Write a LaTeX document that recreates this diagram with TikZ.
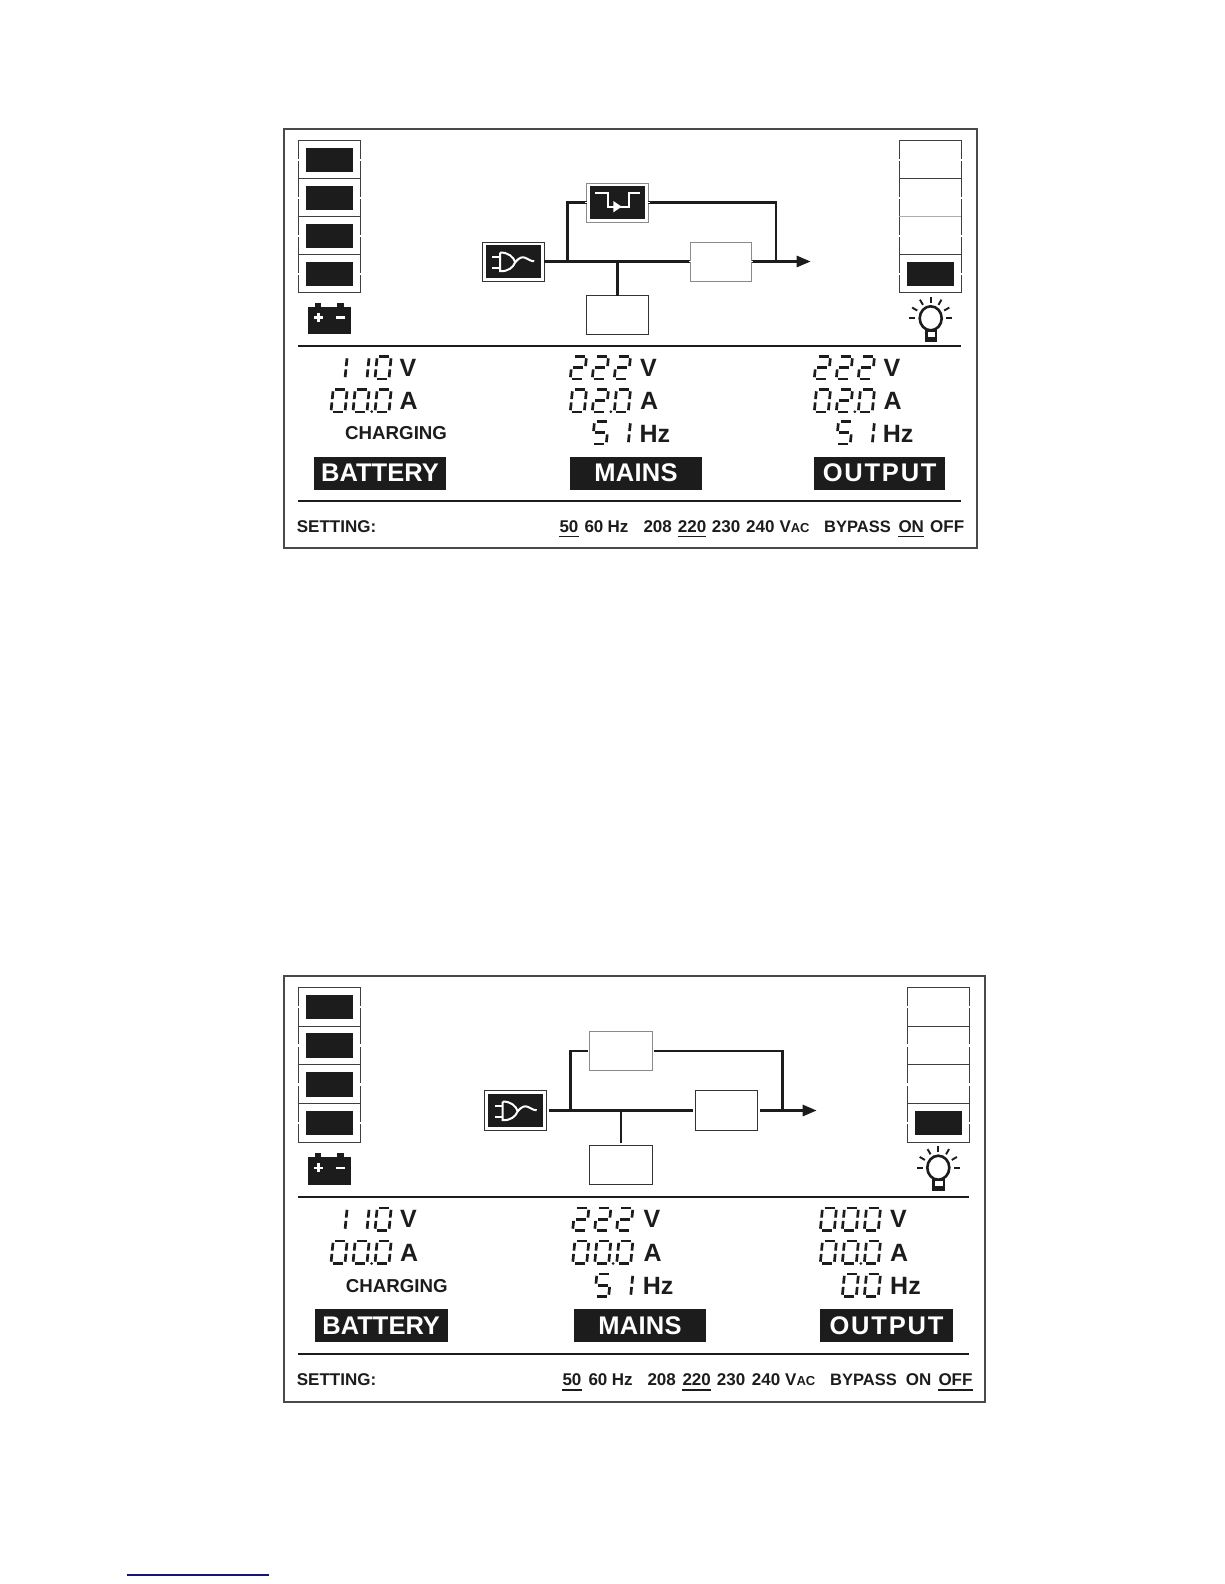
\documentclass[tikz,border=0pt]{standalone}
\usepackage{fontspec}
\setmainfont{Liberation Sans}
\usetikzlibrary{arrows.meta, positioning}

\definecolor{lcdblack}{HTML}{1C1C1C}
\definecolor{edgegray}{HTML}{8A8A8A}
\definecolor{linkblue}{HTML}{14147A}

% segments of one digit
\def\segA{3/0/13/0}
\def\segB{15/1.8/15/9.6}
\def\segC{15/12.9/15/20.7}
\def\segD{3/22.5/13/22.5}
\def\segE{1/12.9/1/20.7}
\def\segF{1/1.8/1/9.6}
\def\segG{3/11.2/13/11.2}
\def\lcddzero{\segA,\segB,\segC,\segD,\segE,\segF}
\def\lcddone{\segB,\segC}
\def\lcddtwo{\segA,\segB,\segG,\segE,\segD}
\def\lcddfive{\segA,\segF,\segG,\segC,\segD}

\newcommand{\lcdnum}[3]{%
  \foreach \dg [count=\dn] in {#3} \pic at ({#1+22*(\dn-1)},#2) {lcd=\dg};}

\tikzset{
  pics/lcd/.style={code={
    \edef\thesegs{\csname lcdd#1\endcsname}
    \begin{scope}[xshift=2.2pt, xslant=0.1]
      \foreach \xa/\ya/\xb/\yb in \thesegs \draw[line width=2.7pt, lcdblack] (\xa,\ya) -- (\xb,\yb);
    \end{scope}}},
  pics/lcddot/.style={code={\fill[lcdblack] (0,0) circle (1.5pt);}},
  pics/battery/.style={code={
    \fill[lcdblack] (-21.7,-13.8) rectangle (21.7,13.8);
    \fill[lcdblack] (-14,-17.6) rectangle (-8.5,-13.8);
    \fill[lcdblack] (8,-17.6) rectangle (14.5,-13.8);
    \draw[white, line width=2.6pt] (-15.5,-3.2) -- (-6.5,-3.2) (-11,-7.7) -- (-11,1.3) (6.6,-3.2) -- (16,-3.2);}},
  pics/bulb/.style={code={
    \fill[lcdblack] (-6.2,11) rectangle (6.2,23.7);
    \fill[white] (-3.2,13.5) rectangle (4.3,18.5);
    \draw[lcdblack, line width=2.6pt, fill=white] (0,0) ellipse (11pt and 12pt);
    \foreach \a in {0,30,60,90,120,150,180} \draw[lcdblack, line width=1.9pt] (\a:15.5pt) -- (\a:21.5pt);}},
  pics/plug/.style={code={
    \draw[white, line width=2pt] (-21,-4.7) -- (-13,-4.7) (-21,6.3) -- (-13,6.3);
    \draw[white, line width=2pt] (-13,-9) -- (-13,9.7) .. controls (-5,10) and (0,6) .. (2,0.7) .. controls (0,-5) and (-5,-9) .. (-13,-9);
    \draw[white, line width=2pt] (2,0.7) .. controls (6,-4) and (9,-5) .. (12,-3.7) .. controls (15,-2.5) and (18,0) .. (21,-0.3);}},
  pics/transfer/.style={code={
    \draw[white, line width=2.2pt] (-22.5,-9.2) -- (-9.2,-9.2) -- (-9.2,4.2) -- (11.5,4.2) -- (11.5,-9.2) -- (22.5,-9.2);
    \fill[white] (-4.2,-1.5) -- (4.2,4.2) -- (-4.2,9.9) -- cycle;}},
  cell/.style={draw=lcdblack!85, line width=1pt, minimum width=62pt, minimum height=38pt, inner sep=0pt, outer sep=0pt},
  bar/.style={fill=lcdblack, minimum width=46.5pt, minimum height=24.3pt, inner sep=0pt, outer sep=0pt},
  box/.style={draw=edgegray, line width=1pt, minimum width=61.6pt, minimum height=39pt, inner sep=0pt, outer sep=0pt},
  boxdark/.style={box, draw=lcdblack!90},
  inset/.style={fill=lcdblack, minimum width=54.8pt, minimum height=32.5pt, inner sep=0pt},
  bus/.style={draw=lcdblack, line width=2.7pt},
  busout/.style={bus, -{Triangle[length=14pt,width=11pt]}},
  notch/.style={draw=white, line width=1.6pt},
  unit/.style={anchor=west, inner sep=0pt, font=\fontsize{25}{25}\selectfont\bfseries, text=lcdblack},
  banner/.style={fill=lcdblack, text=white, minimum width=131.5pt, minimum height=32.6pt, inner sep=0pt, font=\fontsize{25.5}{25.5}\selectfont\bfseries},
  small/.style={anchor=west, inner sep=0pt, font=\fontsize{17}{17}\selectfont\bfseries, text=lcdblack},
  bypasstext/.style={small, font=\fontsize{16.5}{16.5}\selectfont\bfseries},
  chargetext/.style={small, font=\fontsize{18.7}{18.7}\selectfont\bfseries},
  uline/.style={draw=lcdblack, line width=1.8pt},
  rule/.style={draw=lcdblack, line width=1.8pt},
  frame/.style={draw=lcdblack!80, line width=1.8pt}
}

\begin{document}
\begin{tikzpicture}[x=1pt, y=-1pt]
\useasboundingbox (0,0) rectangle (1224,1584);

% upper panel
\draw[frame] (284.3,129.3) rectangle (977.3,548.3);
\node[cell] (tl1) at (329.3,159.7) {};
\node[cell, below=0pt of tl1] (tl2) {};
\node[cell, below=0pt of tl2] (tl3) {};
\node[cell, below=0pt of tl3] (tl4) {};
\node[cell] (tr1) at (930.3,159.7) {};
\node[cell, below=0pt of tr1] (tr2) {};
\node[cell, below=0pt of tr2] (tr3) {};
\node[cell, below=0pt of tr3] (tr4) {};
\draw[edgegray!70, line width=1pt] (tr3.north west) -- (tr3.north east);
\foreach \n in {1,...,4} \node[bar] (tlb\n) at (tl\n) {};
\node[bar] (trb4) at (tr4) {};
\foreach \c in {tl1,tl2,tl3,tl4,tr1,tr2,tr3,tr4} {
  \draw[notch] ([yshift=-1.2pt]\c.west) -- ([yshift=1.2pt]\c.west);
  \draw[notch] ([yshift=-1.2pt]\c.east) -- ([yshift=1.2pt]\c.east);
}
\pic at (329.3,320.5) {battery};
\pic at (930.7,318.3) {bulb};

\node[boxdark] (tmains) at (513.2,261.5) {};
\node[box, above right=20pt and 42.7pt of tmains] (tbypass) {};
\node[box, right=146.3pt of tmains] (tinverter) {};
\node[boxdark, below right=14.5pt and 42.7pt of tmains] (tcharger) {};
\node[inset] (tmainsin) at (tmains) {};
\node[inset] (tbypassin) at (tbypass) {};
\pic at (tmains) {plug};
\pic at (tbypass) {transfer};
\coordinate (tfeed) at (567.3,261.5);
\coordinate (tjoin) at (776,261.5);
\coordinate (tout) at (810.7,261.5);
\draw[bus, line width=2.2pt] (tmains) -- (tinverter);
\draw[bus] (tbypass.west) -| (tfeed);
\draw[bus] (tbypass.east) -| (tjoin);
\draw[bus] (tcharger.north |- tfeed) -- (tcharger.north);
\draw[busout] (tinverter.east) -- (tout);
\draw[notch] ([xshift=-1.5pt]tinverter.west) -- ++(3,0) ([xshift=-1.5pt]tinverter.east) -- ++(3,0);
\draw[notch] ([xshift=-1.5pt]tbypass.east) -- ++(3,0) ([xshift=-1.5pt]tbypass.west) -- ++(3,0);
\draw[notch] ([yshift=-1.5pt]tcharger.north) -- ++(0,3);

\draw[rule] (298.3,345.7) -- (961.3,345.7);
\draw[rule] (298.3,501) -- (961.3,501);

% upper readings
\lcdnum{330}{356.5}{one,one,zero}
\lcdnum{330}{389.5}{zero,zero,zero}
\pic at (371.7,411.7) {lcddot};
\node[unit] (tbatv) at (399.3,367.7) {V};
\node[unit] (tbata) at (399.3,401) {A};
\node[chargetext] (tcharging) at (345,433.3) {CHARGING};
\node[banner] (tbattery) at (380,473.2) {BATTERY};

\lcdnum{569.3}{356.5}{two,two,two}
\lcdnum{569.3}{389.5}{zero,two,zero}
\pic at (610.8,411.7) {lcddot};
\lcdnum{591.3}{421.5}{five,one}
\node[unit] (tmainv) at (640,367.7) {V};
\node[unit] (tmaina) at (640,401) {A};
\node[unit] (tmainhz) at (639.3,434.3) {Hz};
\node[banner] (tmainsb) at (636,473.2) {\addfontfeature{LetterSpace=1}MAINS};

\lcdnum{813.3}{356.5}{two,two,two}
\lcdnum{813.3}{389.5}{zero,two,zero}
\pic at (854.8,411.7) {lcddot};
\lcdnum{835.3}{421.5}{five,one}
\node[unit] (toutv) at (883.3,367.7) {V};
\node[unit] (touta) at (883.3,401) {A};
\node[unit] (touthz) at (882.7,434.3) {Hz};
\node[banner] (toutputb) at (879.7,473.2) {\addfontfeature{LetterSpace=7}OUTPUT};

% upper settings
\node[small] (tset) at (296.7,526.7) {SETTING:};
\node[small] (t50) at (559.3,526.7) {50};
\node[small] (t60) at (584.3,526.7) {60};
\node[small] (thz) at (607.3,526.7) {Hz};
\node[small] (t208) at (643.3,526.7) {208};
\node[small] (t220) at (677.7,526.7) {220};
\node[small] (t230) at (711.7,526.7) {230};
\node[small] (t240) at (746,526.7) {240};
\node[small] (tvac) at (779.3,526.7) {V{\fontsize{13}{13}\selectfont AC}};
\node[bypasstext] (tbyp) at (824,526.7) {BYPASS};
\node[small] (ton) at (898.3,526.7) {ON};
\node[small] (toff) at (930,526.7) {OFF};
\foreach \u in {t50,t220,ton} \draw[uline] ([yshift=-3.5pt]\u.south west) -- ([yshift=-3.5pt]\u.south east);

% lower panel
\tikzset{cell/.append style={minimum height=38.65pt}, box/.append style={minimum height=39.4pt, minimum width=62.2pt},
  banner/.append style={minimum width=132.8pt, minimum height=33pt}}
\draw[frame] (284,976) rectangle (985.3,1402);
\node[cell] (bl1) at (329.3,1007) {};
\node[cell, below=0pt of bl1] (bl2) {};
\node[cell, below=0pt of bl2] (bl3) {};
\node[cell, below=0pt of bl3] (bl4) {};
\node[cell] (br1) at (938.3,1007) {};
\node[cell, below=0pt of br1] (br2) {};
\node[cell, below=0pt of br2] (br3) {};
\node[cell, below=0pt of br3] (br4) {};
\foreach \n in {1,...,4} \node[bar, minimum width=47.3pt, minimum height=24.6pt] (blb\n) at (bl\n) {};
\node[bar, minimum width=47.3pt, minimum height=24.6pt] (brb4) at (br4) {};
\foreach \c in {bl1,bl2,bl3,bl4,br1,br2,br3,br4} {
  \draw[notch] ([yshift=-1.2pt]\c.west) -- ([yshift=1.2pt]\c.west);
  \draw[notch] ([yshift=-1.2pt]\c.east) -- ([yshift=1.2pt]\c.east);
}
\pic at (329.2,1171) {battery};
\pic at (938.3,1167.7) {bulb};

\node[boxdark] (bmains) at (515.7,1110.5) {};
\node[box, above right=20pt and 43pt of bmains] (bbypass) {};
\node[boxdark, right=148.7pt of bmains] (binverter) {};
\node[boxdark, below right=15pt and 43pt of bmains] (bcharger) {};
\node[inset, minimum width=55.4pt] (bmainsin) at (bmains) {};
\pic at (bmains) {plug};
\coordinate (bfeed) at (570.7,1110.5);
\coordinate (bjoin) at (782.3,1110.5);
\coordinate (bout) at (816.7,1110.5);
\draw[bus, shorten <=2.5pt, shorten >=2.5pt] (bmains) -- (binverter);
\draw[bus, shorten <=2pt] (bbypass.west) -| (bfeed);
\draw[bus, shorten <=2pt] (bbypass.east) -| (bjoin);
\draw[bus, shorten >=2pt] (bcharger.north |- bfeed) -- (bcharger.north);
\draw[busout, shorten <=2.5pt] (binverter.east) -- (bout);

\draw[rule] (298.3,1196.7) -- (969.3,1196.7);
\draw[rule] (298.3,1354.3) -- (969.3,1354.3);

% lower readings
\lcdnum{330}{1208}{one,one,zero}
\lcdnum{330}{1241}{zero,zero,zero}
\pic at (371.7,1263.5) {lcddot};
\node[unit] (bbatv) at (400,1219.3) {V};
\node[unit] (bbata) at (400,1253.3) {A};
\node[chargetext] (bcharging) at (345.7,1285.7) {CHARGING};
\node[banner] (bbattery) at (381.2,1325.8) {BATTERY};

\lcdnum{571.7}{1208}{two,two,two}
\lcdnum{571.7}{1241}{zero,zero,zero}
\pic at (613.2,1263.5) {lcddot};
\lcdnum{593.7}{1274}{five,one}
\node[unit] (bmainv) at (643.3,1219.3) {V};
\node[unit] (bmaina) at (643.3,1253.3) {A};
\node[unit] (bmainhz) at (642.7,1286) {Hz};
\node[banner] (bmainsb) at (640,1325.8) {\addfontfeature{LetterSpace=1}MAINS};

\lcdnum{819.3}{1208}{zero,zero,zero}
\lcdnum{819.3}{1241}{zero,zero,zero}
\pic at (860.8,1263.5) {lcddot};
\lcdnum{841.3}{1274}{zero,zero}
\node[unit] (boutv) at (890,1219.3) {V};
\node[unit] (bouta) at (890,1253.3) {A};
\node[unit] (bouthz) at (890,1286) {Hz};
\node[banner] (boutputb) at (886.5,1325.8) {\addfontfeature{LetterSpace=7}OUTPUT};

% lower settings
\node[small] (bset) at (296.7,1380) {SETTING:};
\node[small] (b50) at (562.3,1380) {50};
\node[small] (b60) at (588.3,1380) {60};
\node[small] (bhz) at (611.7,1380) {Hz};
\node[small] (b208) at (647.3,1380) {208};
\node[small] (b220) at (682.3,1380) {220};
\node[small] (b230) at (716.7,1380) {230};
\node[small] (b240) at (751.7,1380) {240};
\node[small] (bvac) at (785,1380) {V{\fontsize{13}{13}\selectfont AC}};
\node[bypasstext] (bbyp) at (830,1380) {BYPASS};
\node[small] (bon) at (905.7,1380) {ON};
\node[small] (boff) at (938.3,1380) {OFF};
\foreach \u in {b50,b220,boff} \draw[uline] ([yshift=-3.5pt]\u.south west) -- ([yshift=-3.5pt]\u.south east);

\coordinate (linka) at (127.3,1575);
\coordinate (linkb) at (269,1575);
\draw[linkblue, line width=1.2pt] (linka) -- (linkb);
\end{tikzpicture}
\end{document}
